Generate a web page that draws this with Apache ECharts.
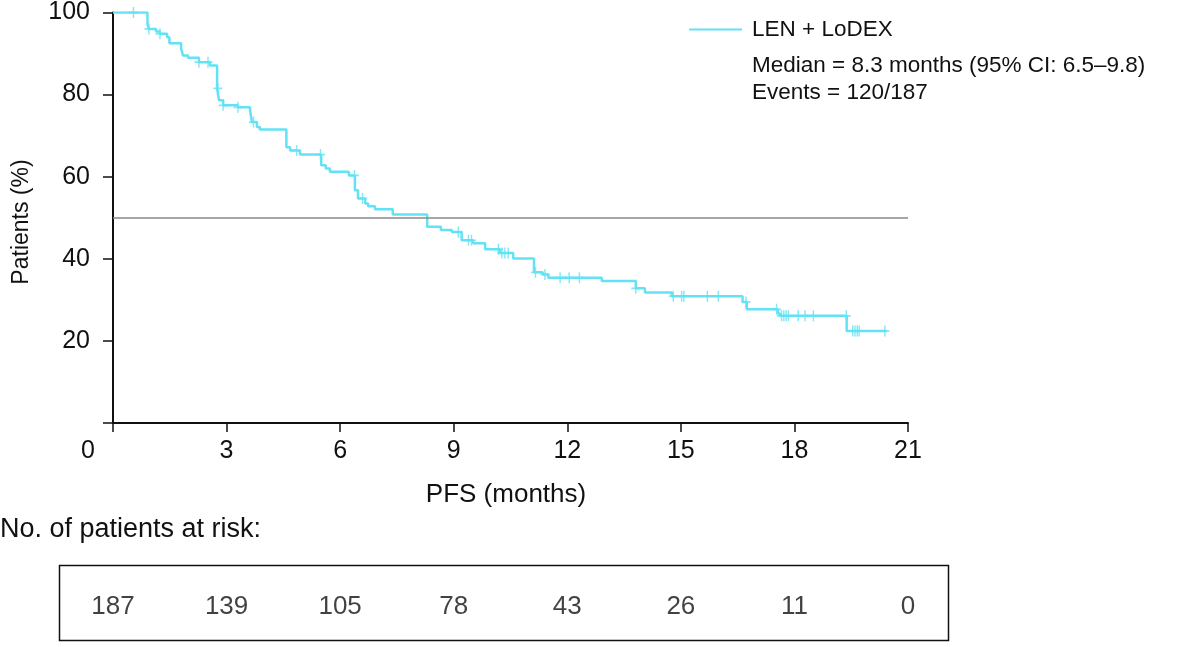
<!DOCTYPE html>
<html>
<head>
<meta charset="utf-8">
<script src="https://cdn.jsdelivr.net/npm/echarts@6/dist/echarts.min.js"></script>
<style>
html,body{margin:0;padding:0;background:#fff;}
#main{width:1200px;height:647px;}
</style>
</head>
<body>
<div id="main"></div>
<script>
// Kaplan-Meier step points (months, % progression-free)
var kmTimes = [0, 0.91, 0.95, 1.14, 1.24, 1.43, 1.49, 1.80, 1.85, 1.98, 2.27, 2.56, 2.75, 2.80, 2.91, 3.30, 3.62, 3.67, 3.80, 3.88, 4.58, 4.68, 4.94, 5.50, 5.62, 5.73, 6.23, 6.39, 6.47, 6.66, 6.74, 6.92, 7.39, 8.30, 8.66, 8.95, 9.21, 9.51, 9.83, 10.22, 10.57, 11.12, 11.35, 11.50, 12.91, 13.81, 14.05, 14.76, 16.63, 16.74, 17.56, 17.62, 19.38, 20.44];
var kmSurv = [100, 97.2, 96.0, 95.4, 94.8, 94.0, 92.5, 91.2, 89.5, 89.0, 87.9, 87.1, 81.5, 78.6, 77.4, 76.9, 76.2, 73.3, 72.1, 71.5, 67.2, 66.4, 65.4, 62.8, 62.0, 61.2, 60.3, 56.7, 54.7, 53.5, 52.8, 52.1, 50.8, 47.8, 47.0, 46.5, 44.5, 43.8, 42.3, 41.4, 40.1, 36.7, 36.2, 35.4, 34.6, 32.8, 31.8, 30.9, 29.5, 27.7, 26.7, 26.1, 22.4, 22.4];
// Censoring times (months)
var censorTimes = [0.54, 0.95, 1.24, 2.27, 2.51, 2.77, 2.91, 3.30, 3.71, 4.85, 5.48, 6.38, 6.59, 9.12, 9.39, 9.47, 10.18, 10.27, 10.35, 10.44, 11.16, 11.41, 11.81, 12.05, 12.32, 13.81, 14.80, 15.02, 15.08, 15.70, 15.99, 16.72, 17.53, 17.66, 17.72, 17.78, 17.84, 18.10, 18.28, 18.50, 19.37, 19.54, 19.60, 19.66, 19.71, 20.39];
// Number at risk
var riskTimes = [0, 3, 6, 9, 12, 15, 18, 21];
var riskCounts = [187, 139, 105, 78, 43, 26, 11, 0];
var seriesName = 'LEN + LoDEX';
var medianText = 'Median = 8.3 months (95% CI: 6.5\u20139.8)';
var eventsText = 'Events = 120/187';
var medianLevel = 50;

function survAt(t) {
  var v = kmSurv[0];
  for (var i = 0; i < kmTimes.length; i++) { if (kmTimes[i] <= t) v = kmSurv[i]; }
  return v;
}
var kmData = kmTimes.map(function (t, i) { return [t, kmSurv[i]]; });
var censorData = censorTimes.map(function (t) { return [t, survAt(t)]; });
var riskData = riskTimes.map(function (t, i) { return [t, 0, riskCounts[i]]; });

var FONT = '"Liberation Sans", Arial, Helvetica, sans-serif';
var CYAN = '#63e2f5';
var TXT = '#111';
var FT = 25;   // tick labels
var FR = 26;   // risk numbers
var FL = 22.5; // legend block
var FN = 26;   // x axis name

var chart = echarts.init(document.getElementById('main'), null, {renderer: 'canvas'});
chart.setOption({
  animation: false,
  backgroundColor: '#fff',
  textStyle: {fontFamily: FONT},
  grid: [
    {left: 113, right: 292, top: 12, bottom: 224, containLabel: false},
    {left: 113, right: 292, top: 574, height: 66, containLabel: false}
  ],
  legend: {
    data: [seriesName],
    left: 684, top: 13,
    icon: 'rect', itemWidth: 53, itemHeight: 2, itemGap: 10,
    textStyle: {fontSize: FL, color: TXT, fontFamily: FONT, padding: [0, 0, 0, 5]}
  },
  xAxis: [{
    gridIndex: 0, type: 'value', min: 0, max: 21, interval: 3,
    axisLine: {show: true, lineStyle: {color: '#111', width: 2}},
    axisTick: {show: true, length: 9, lineStyle: {color: '#111', width: 1.5}},
    splitLine: {show: false},
    axisLabel: {
      fontSize: FT, color: TXT, margin: 16, fontFamily: FONT,
      formatter: function (v) { return v === 0 ? '{z|0}' : String(v); },
      rich: {z: {fontSize: FT, color: TXT, fontFamily: FONT, padding: [0, 50, 0, 0]}}
    }
  }, {
    gridIndex: 1, type: 'value', min: 0, max: 21, show: false
  }],
  yAxis: [{
    gridIndex: 0, type: 'value', min: 0, max: 100, interval: 20,
    axisLine: {show: true, lineStyle: {color: '#111', width: 2}},
    axisTick: {show: true, length: 10, lineStyle: {color: '#111', width: 1.5}},
    splitLine: {show: false},
    axisLabel: {
      fontSize: FT, color: TXT, margin: 23, fontFamily: FONT,
      formatter: function (v) { return v === 0 ? '' : String(v); }
    }
  }, {
    gridIndex: 1, type: 'value', min: -1, max: 1, show: false
  }],
  series: [{
    name: seriesName, type: 'line', xAxisIndex: 0, yAxisIndex: 0,
    step: 'end', data: kmData, showSymbol: false, symbol: 'none',
    lineStyle: {color: CYAN, width: 2.5}, itemStyle: {color: CYAN},
    markLine: {
      silent: true, symbol: 'none', label: {show: false},
      lineStyle: {color: '#888', width: 1.5, type: 'solid'},
      data: [{yAxis: medianLevel}]
    },
    z: 3
  }, {
    name: 'censor', type: 'scatter', xAxisIndex: 0, yAxisIndex: 0,
    data: censorData,
    symbol: 'path://M4.2,0h1.6v10h-1.6zM0,4.2h10v1.6h-10z',
    symbolSize: [9, 11], symbolKeepAspect: false,
    itemStyle: {color: CYAN}, z: 4
  }, {
    name: 'risk', type: 'scatter', xAxisIndex: 1, yAxisIndex: 1,
    data: riskData, symbolSize: 0, silent: true,
    label: {
      show: true, position: 'inside', fontSize: FR, color: TXT, fontFamily: FONT,
      formatter: function (p) { return String(p.value[2]); }
    }
  }],
  graphic: [
    {type: 'text', x: 752, y: 66, style: {text: medianText, fontSize: FL, fill: TXT, fontFamily: FONT, textVerticalAlign: 'middle'}},
    {type: 'text', x: 752, y: 93, style: {text: eventsText, fontSize: FL, fill: TXT, fontFamily: FONT, textVerticalAlign: 'middle'}},
    {type: 'text', x: 22, y: 222, rotation: Math.PI / 2,
     style: {text: 'Patients (%)', fontSize: 23, fill: TXT, fontFamily: FONT, textAlign: 'center', textVerticalAlign: 'middle'}},
    {type: 'text', x: 506, y: 495,
     style: {text: 'PFS (months)', fontSize: FN, fill: TXT, fontFamily: FONT, textAlign: 'center', textVerticalAlign: 'middle'}},
    {type: 'text', x: 0, y: 530,
     style: {text: 'No. of patients at risk:', fontSize: 27, fill: TXT, fontFamily: FONT, textAlign: 'left', textVerticalAlign: 'middle'}},
    {type: 'rect', shape: {x: 59.5, y: 565.5, width: 889, height: 75},
     style: {fill: 'none', stroke: '#111', lineWidth: 1.5}}
  ]
});
</script>
</body>
</html>
